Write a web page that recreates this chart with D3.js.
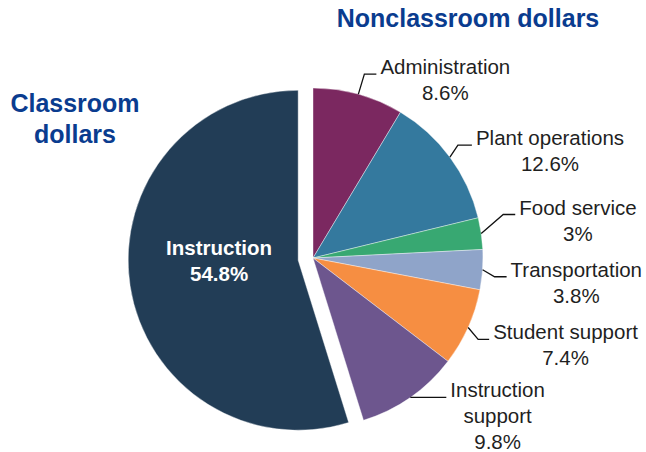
<!DOCTYPE html>
<html>
<head>
<meta charset="utf-8">
<script src="https://cdn.jsdelivr.net/npm/d3@7"></script>
<style>
  body { margin: 0; background: #fff; }
  svg { display: block; font-family: "Liberation Sans", Arial, sans-serif; }
</style>
</head>
<body>
<svg id="chart" width="646" height="452"></svg>
<script>
const categories = ["Administration", "Plant operations", "Food service", "Transportation",
  "Student support", "Instruction support", "Instruction"];
const values = [8.6, 12.6, 3, 3.8, 7.4, 9.8, 54.8];
const valueLabels = ["8.6%", "12.6%", "3%", "3.8%", "7.4%", "9.8%", "54.8%"];
const labelLines = [["Administration"], ["Plant operations"], ["Food service"], ["Transportation"],
  ["Student support"], ["Instruction", "support"], ["Instruction"]];
const colors = ["#7b2860", "#34799e", "#38a872", "#8fa4c9", "#f68e42", "#6d568e", "#223d56"];

// leader elbow offsets from slice edge [dx, dy, horizontal length]
const leaders = [[6, -20, 12], [8, -12, 14], [22, -19, 12], [12, 7, 12], [10, 12, 11], [0, 0, 36]];

const svg = d3.select("#chart");
const cx = 313, cy = 258, r = 170, explode = 15;

const data = categories.map((c, i) => ({ name: c, value: values[i], pct: valueLabels[i], lines: labelLines[i], color: colors[i], idx: i }));

const pie = d3.pie().sort(null).value((d) => d.value).startAngle(0).endAngle(2 * Math.PI);
const arc = d3.arc().innerRadius(0).outerRadius(r);
const arcs = pie(data);
const mid = (d) => (d.startAngle + d.endAngle) / 2;
const isMain = (d) => d.data.name === "Instruction";

const g = svg.append("g").attr("transform", `translate(${cx},${cy})`);

g.selectAll("path")
  .data(arcs)
  .join("path")
  .attr("d", arc)
  .attr("fill", (d) => d.data.color)
  .attr("stroke", "#fff")
  .attr("stroke-width", 0.4)
  .attr("transform", (d) => {
    if (!isMain(d)) return null;
    const a = mid(d);
    return `translate(${Math.sin(a) * explode},${-Math.cos(a) * explode})`;
  });

// inside label for the exploded slice
const main = arcs.find(isMain);
const ma = mid(main);
const labelArc = d3.arc().innerRadius(80).outerRadius(80);
const [lx, ly] = labelArc.centroid(main);
const mainText = g.append("text")
  .attr("text-anchor", "middle")
  .attr("fill", "#fff")
  .attr("font-weight", "bold")
  .attr("font-size", 20.5)
  .attr("transform", `translate(${lx + Math.sin(ma) * explode},${ly - Math.cos(ma) * explode})`);
mainText.append("tspan").attr("x", 0).attr("y", -17).text(main.data.lines[0]);
mainText.append("tspan").attr("x", 0).attr("y", 9).text(main.data.pct);

// outside labels with elbow leader lines
arcs.filter((d) => !isMain(d)).forEach((d) => {
  const a = mid(d);
  const sx = Math.sin(a) * r, sy = -Math.cos(a) * r;
  const [dx, dy, hl] = leaders[d.data.idx];
  const ex = sx + dx, ey = sy + dy;
  g.append("path")
    .attr("d", d3.line()([[sx, sy], [ex, ey], [ex + hl, ey]]))
    .attr("fill", "none")
    .attr("stroke", "#111")
    .attr("stroke-width", 1.3);

  const t = g.append("text")
    .attr("text-anchor", "middle")
    .attr("fill", "#1f1f1f")
    .attr("font-size", 20.5);
  const lines = [...d.data.lines, d.data.pct];
  lines.forEach((s, i) => {
    t.append("tspan").attr("x", 0).attr("y", ey + i * 26).text(s);
  });
  const bb = t.node().getBBox();
  t.attr("transform", `translate(${ex + hl + 4 - bb.x},0)`);
});

// group titles
svg.append("text")
  .attr("x", 468).attr("y", 27)
  .attr("text-anchor", "middle")
  .attr("font-size", 25)
  .attr("font-weight", "bold")
  .attr("fill", "#0a3c8f")
  .text("Nonclassroom dollars");

const ct = svg.append("text")
  .attr("text-anchor", "middle")
  .attr("font-size", 25)
  .attr("font-weight", "bold")
  .attr("fill", "#0a3c8f");
ct.append("tspan").attr("x", 75).attr("y", 112).text("Classroom");
ct.append("tspan").attr("x", 75).attr("y", 143).text("dollars");
</script>
</body>
</html>
